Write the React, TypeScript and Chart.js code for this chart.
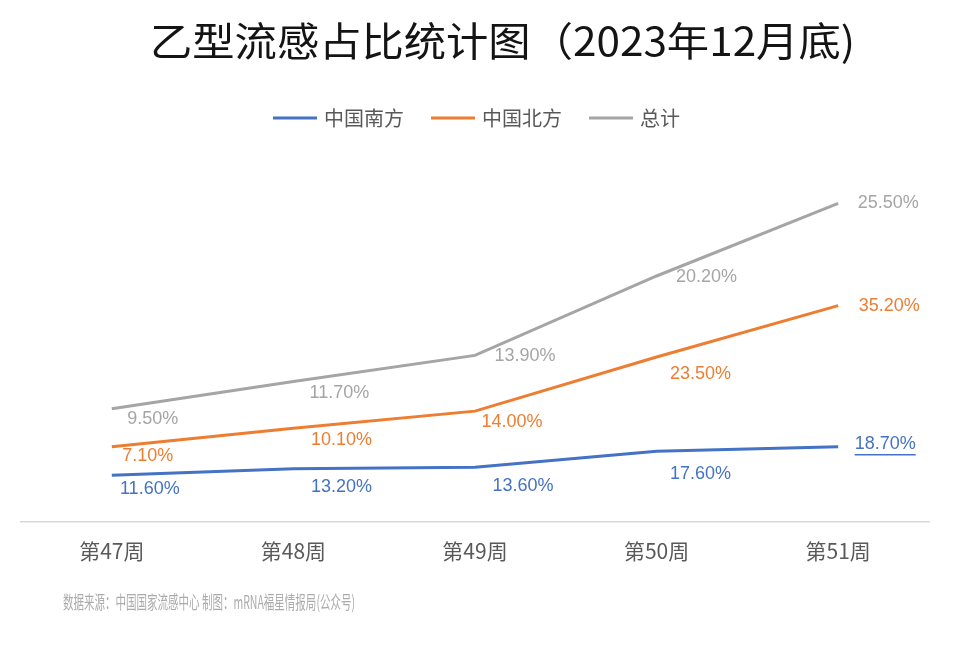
import React, { useEffect, useRef } from "react";
import { Chart, registerables } from "chart.js";

Chart.register(...registerables);

const titleText = "乙型流感占比统计图（2023年12月底)";
const sourceText = "数据来源：中国国家流感中心 制图：mRNA福星情报局(公众号)";
const weeks = ["第47周", "第48周", "第49周", "第50周", "第51周"];
const southValues = [11.6, 13.2, 13.6, 17.6, 18.7];
const northValues = [7.1, 10.1, 14.0, 23.5, 35.2];
const totalValues = [9.5, 11.7, 13.9, 20.2, 25.5];
const seriesNames = ["中国南方", "中国北方", "总计"];
const seriesColors = ["#4472C4", "#ED7D31", "#A5A5A5"];

// label placement (styling): offset of label centre from its point
const labelOffsets = [
  [[38, 14], [48, 18], [48, 19], [44, 23], [47, -3]],
  [[36, 9], [48, 12], [37, 11], [44, 17], [51, 0]],
  [[41, 10], [46, 12], [50, 1], [50, 1], [50, 0]],
];

const CJK = '"Noto Sans CJK SC", "Noto Sans", sans-serif';

function fitText(ctx: CanvasRenderingContext2D, text: string, x: number, y: number, width: number) {
  const w = ctx.measureText(text).width;
  const s = width / w;
  ctx.save();
  ctx.translate(x, y);
  ctx.scale(s, 1);
  ctx.fillText(text, 0, 0);
  ctx.restore();
}

const decorPlugin = {
  id: "decor",
  beforeDraw(chart: any) {
    const ctx = chart.ctx;
    ctx.save();
    ctx.fillStyle = "#ffffff";
    ctx.fillRect(0, 0, chart.width, chart.height);
    ctx.restore();
  },
  afterDraw(chart: any) {
    const ctx: CanvasRenderingContext2D = chart.ctx;
    ctx.save();
    // title
    ctx.fillStyle = "#141414";
    ctx.font = `40px ${CJK}`;
    ctx.textBaseline = "middle";
    ctx.textAlign = "left";
    fitText(ctx, titleText, 150, 41, 705);

    // legend
    ctx.font = `20px ${CJK}`;
    const lineLen = 44;
    const gapLT = 7;
    const gapItem = 27;
    const widths = seriesNames.map((n) => ctx.measureText(n).width);
    let total = 0;
    widths.forEach((w, i) => {
      total += lineLen + gapLT + w + (i < widths.length - 1 ? gapItem : 0);
    });
    let x = chart.width / 2 - total / 2;
    const ly = 118;
    seriesNames.forEach((n, i) => {
      ctx.strokeStyle = seriesColors[i];
      ctx.lineWidth = 3;
      ctx.beginPath();
      ctx.moveTo(x, ly);
      ctx.lineTo(x + lineLen, ly);
      ctx.stroke();
      x += lineLen + gapLT;
      ctx.fillStyle = "#595959";
      ctx.fillText(n, x, ly);
      x += widths[i] + gapItem;
    });

    // source
    ctx.font = `18px ${CJK}`;
    ctx.fillStyle = "#ababab";
    fitText(ctx, sourceText, 63, 602, 292);

    // data labels
    ctx.font = `18px "Liberation Sans", Arial, sans-serif`;
    ctx.textAlign = "center";
    ctx.textBaseline = "middle";
    chart.data.datasets.forEach((ds: any, di: number) => {
      const meta = chart.getDatasetMeta(di);
      meta.data.forEach((pt: any, i: number) => {
        const [dx, dy] = labelOffsets[di][i];
        const txt = Number(ds.data[i]).toFixed(2) + "%";
        ctx.fillStyle = seriesColors[di];
        const cx = pt.x + dx;
        const cy = pt.y + dy;
        ctx.fillText(txt, cx, cy);
        if (di === 0 && i === ds.data.length - 1) {
          const w = ctx.measureText(txt).width;
          ctx.strokeStyle = seriesColors[di];
          ctx.lineWidth = 1.5;
          ctx.beginPath();
          ctx.moveTo(cx - w / 2, cy + 11);
          ctx.lineTo(cx + w / 2, cy + 11);
          ctx.stroke();
        }
      });
    });
    ctx.restore();
  },
};

export default function App() {
  const ref = useRef<HTMLCanvasElement | null>(null);
  useEffect(() => {
    if (!ref.current) return;
    const chart = new Chart(ref.current, {
      type: "line",
      data: {
        labels: weeks,
        datasets: [southValues, northValues, totalValues].map((d, i) => ({
          label: seriesNames[i],
          data: d,
          borderColor: seriesColors[i],
          backgroundColor: seriesColors[i],
          borderWidth: 3,
          pointRadius: 0,
          tension: 0,
          fill: false,
        })),
      },
      options: {
        animation: false,
        responsive: false,
        layout: { padding: { top: 201, left: 21, right: 24, bottom: 65 } },
        plugins: {
          legend: { display: false },
          title: { display: false },
          tooltip: { enabled: false },
        },
        scales: {
          x: {
            offset: true,
            grid: { display: false, drawTicks: false },
            border: { display: true, color: "#d9d9d9", width: 1.5 },
            ticks: {
              color: "#595959",
              font: { family: CJK, size: 21 },
              padding: 17,
            },
          },
          y: {
            stacked: true,
            min: 0,
            max: 80,
            display: false,
          },
        },
      },
      plugins: [decorPlugin],
    });
    return () => chart.destroy();
  }, []);
  return (
    <div style={{ position: "fixed", left: 0, top: 0, width: 953, height: 646, background: "#fff" }}>
      <canvas ref={ref} width={953} height={646} />
    </div>
  );
}
